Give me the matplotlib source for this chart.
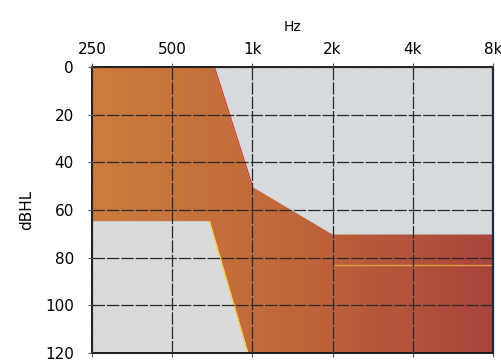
import numpy as np
import matplotlib
matplotlib.use("Agg")
import matplotlib.pyplot as plt
from matplotlib.colors import LinearSegmentedColormap

# audiogram axes
freqs = [250, 500, 1000, 2000, 4000, 8000]
freq_labels = ["250", "500", "1k", "2k", "4k", "8k"]
levels = [0, 20, 40, 60, 80, 100, 120]

# grey (normal) area, upper right
upper_f = [720, 1000, 2000, 8000, 8000]
upper_db = [0, 50, 70, 70, 0]
# grey area, lower left
lower_f = [250, 690, 960, 250]
lower_db = [65, 65, 120, 120]
# thin yellow line across the high frequencies
line_f = [2000, 8000]
line_db = [83, 83]

fig = plt.figure(figsize=(5.02, 3.61), dpi=100)
ax = fig.add_axes([0.1833, 0.0222, 0.7988, 0.7922])

ax.set_xscale("log", base=2)
ax.set_xlim(250, 8000)
ax.set_ylim(120, 0)

# orange -> dark red background
cmap = LinearSegmentedColormap.from_list("bg", ["#cc7d3e", "#c0673a", "#a8443c"])
grad = np.linspace(0, 1, 256).reshape(1, -1)
ax.imshow(grad, cmap=cmap, aspect="auto", extent=[0, 1, 0, 1],
          transform=ax.transAxes, zorder=0)

ax.fill(upper_f, upper_db, color="#d6dadc", zorder=1)
ax.plot(upper_f[:2], upper_db[:2], color="#d23a2a", lw=0.9, zorder=2)
ax.fill(lower_f, lower_db, color="#d8dadb", zorder=1)
ax.plot(lower_f[1:3], lower_db[1:3], color="#f2d24a", lw=1.0, zorder=2)
ax.plot(line_f, line_db, color="#e0a040", lw=1.0, zorder=2)

ax.set_xticks(freqs)
ax.set_xticklabels(freq_labels)
ax.minorticks_off()
ax.set_yticks(levels)
ax.xaxis.set_ticks_position("both")
ax.tick_params(axis="x", labeltop=True, labelbottom=False)
ax.xaxis.set_label_position("top")
ax.set_xlabel("Hz", fontsize=10, labelpad=8)
ax.set_ylabel("dBHL", fontsize=11, labelpad=8)
ax.tick_params(axis="both", labelsize=11, length=3, width=0.8, color="#555555")
ax.tick_params(axis="x", pad=4)
ax.tick_params(axis="y", pad=10)

ax.grid(True, color="#2a2a2a", lw=0.9, ls=(0, (10, 1.5)), zorder=3)
ax.set_axisbelow(False)

for side in ["top", "left", "bottom"]:
    ax.spines[side].set_linewidth(1.4)
    ax.spines[side].set_color("#1a1a1a")
ax.spines["right"].set_linewidth(1.6)
ax.spines["right"].set_color("#1c2a44")

fig.savefig("out.png", dpi=100)
